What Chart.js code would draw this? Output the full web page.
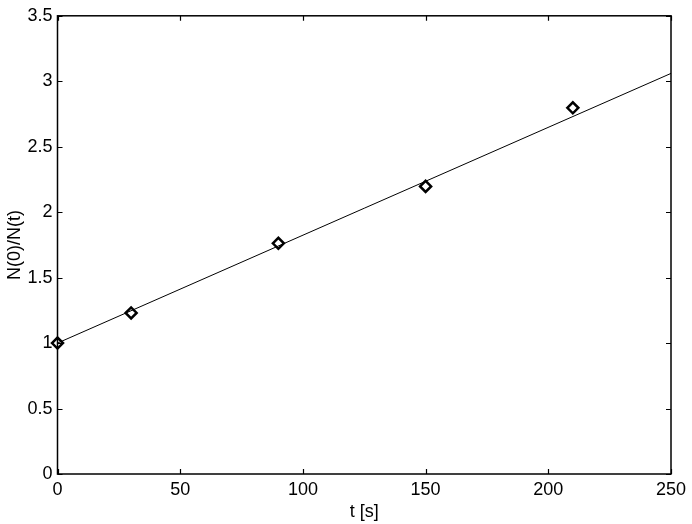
<!DOCTYPE html>
<html>
<head>
<meta charset="utf-8">
<script src="https://cdn.jsdelivr.net/npm/chart.js@4/dist/chart.umd.min.js"></script>
<style>
html,body{margin:0;padding:0;background:#fff;}
#wrap{width:692px;height:524px;position:relative;}
</style>
</head>
<body>
<div id="wrap"><canvas id="c" width="692" height="524"></canvas></div>
<script>
const tValues = [0, 30, 90, 150, 210];
const ratioValues = [1.0, 1.23, 1.762, 2.197, 2.797];
const fitT = [0, 250];
const fitRatio = [1.0, 3.06];
const xTicks = [0, 50, 100, 150, 200, 250];
const yTicks = [0, 0.5, 1, 1.5, 2, 2.5, 3, 3.5];
const xTitle = 't [s]';
const yTitle = 'N(0)/N(t)';

const FONT = "'Liberation Sans', Arial, Helvetica, sans-serif";

const frame = {
  id: 'frame',
  afterDatasetsDraw(chart) {
    const {ctx, chartArea: a, scales: {x, y}} = chart;
    ctx.save();
    ctx.strokeStyle = '#000';
    ctx.lineWidth = 1.2;
    const L = 5;
    ctx.beginPath();
    xTicks.forEach(v => {
      const px = Math.round(x.getPixelForValue(v)) + 0.5;
      ctx.moveTo(px, a.bottom); ctx.lineTo(px, a.bottom - L);
      ctx.moveTo(px, a.top); ctx.lineTo(px, a.top + L);
    });
    yTicks.forEach(v => {
      const py = Math.round(y.getPixelForValue(v)) + 0.5;
      ctx.moveTo(a.left, py); ctx.lineTo(a.left + L, py);
      ctx.moveTo(a.right, py); ctx.lineTo(a.right - L, py);
    });
    ctx.stroke();
    ctx.lineWidth = 1.5;
    ctx.strokeRect(a.left, a.top, a.right - a.left, a.bottom - a.top);
    ctx.restore();
  }
};

new Chart(document.getElementById('c'), {
  type: 'scatter',
  data: {
    datasets: [
      {
        type: 'line',
        data: fitT.map((t, i) => ({x: t, y: fitRatio[i]})),
        borderColor: '#000',
        borderWidth: 1,
        pointRadius: 0,
        fill: false,
        order: 2
      },
      {
        data: tValues.map((t, i) => ({x: t, y: ratioValues[i]})),
        pointStyle: 'rectRot',
        pointRadius: 5.5,
        borderColor: '#000',
        backgroundColor: 'rgba(255,255,255,0)',
        borderWidth: 2.5,
        clip: false,
        order: 1
      }
    ]
  },
  options: {
    responsive: false,
    animation: false,
    layout: {padding: {top: 15, right: 21, left: 0, bottom: 0}},
    plugins: {legend: {display: false}, tooltip: {enabled: false}},
    scales: {
      x: {
        type: 'linear',
        min: 0, max: 250,
        afterBuildTicks: s => { s.ticks = xTicks.map(v => ({value: v})); },
        afterFit: s => { s.height = 50; },
        grid: {display: false, drawTicks: false},
        border: {display: false},
        ticks: {color: '#000', font: {family: FONT, size: 18}, padding: 5, maxRotation: 0},
        title: {display: true, text: xTitle, color: '#000', font: {family: FONT, size: 18}, padding: {top: 0, bottom: 1}}
      },
      y: {
        type: 'linear',
        min: 0, max: 3.5,
        afterBuildTicks: s => { s.ticks = yTicks.map(v => ({value: v})); },
        afterFit: s => { s.width = 57.5; },
        grid: {display: false, drawTicks: false},
        border: {display: false},
        ticks: {color: '#000', font: {family: FONT, size: 18}, padding: 5,
          callback: v => String(v)},
        title: {display: true, text: yTitle, color: '#000', font: {family: FONT, size: 18}, padding: {top: 4, bottom: 0}}
      }
    }
  },
  plugins: [frame]
});
</script>
</body>
</html>
